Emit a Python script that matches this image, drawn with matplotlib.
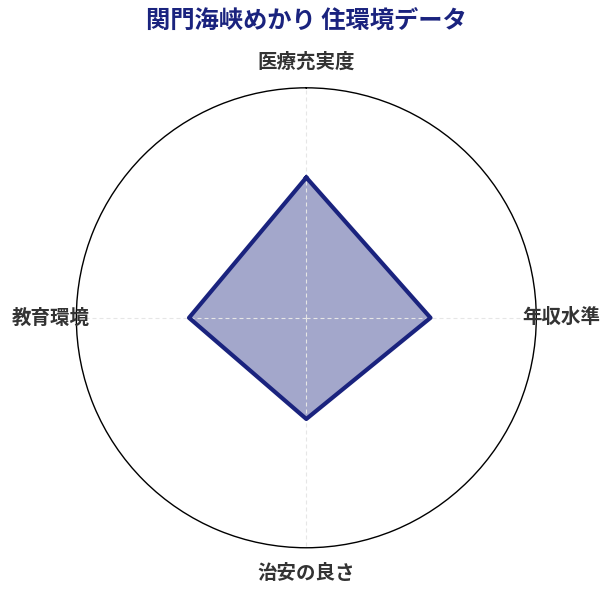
import numpy as np
import matplotlib
matplotlib.use("Agg")
import matplotlib.pyplot as plt

plt.rcParams['font.family'] = ['Noto Sans CJK JP', 'DejaVu Sans']

categories = ['医療充実度', '年収水準', '治安の良さ', '教育環境']
values = [61, 54, 44, 51]
r_max = 100
title = '関門海峡めかり 住環境データ'
navy = '#1a237e'

fig = plt.figure(figsize=(6.12, 5.95), dpi=100)
ax = fig.add_axes([0.1247, 0.0794, 0.7516, 0.773], projection='polar')
ax.set_theta_zero_location('N')
ax.set_theta_direction(-1)

n = len(categories)
angles = np.linspace(0, 2 * np.pi, n, endpoint=False)
a_closed = np.concatenate([angles, angles[:1]])
v_closed = np.concatenate([values, values[:1]])

ax.fill(a_closed, v_closed, color=navy, alpha=0.4, zorder=2, linewidth=0)
ax.plot(a_closed, v_closed, color=navy, linewidth=3, zorder=3)

ax.set_ylim(0, r_max)
ax.set_yticks([])
ax.set_xticks(angles)
ax.set_xticklabels([])
ax.xaxis.grid(True, color='#e6e6e6', linestyle=(0, (3.6, 2.7)), linewidth=0.8)
ax.set_axisbelow(False)
for gl in ax.xaxis.get_gridlines():
    gl.set_zorder(2.5)
ax.spines['polar'].set_color('black')
ax.spines['polar'].set_linewidth(1)

for ang, lab in zip(angles, categories):
    ax.text(ang, r_max * 1.11, lab, ha='center', va='center', fontsize=14,
            fontweight='bold', color='#333333')

fig.text(0.5, 1 - 22 / 595, title, ha='center', va='center', fontsize=17.5,
         fontweight='bold', color=navy)

fig.savefig('out.png', dpi=100)
